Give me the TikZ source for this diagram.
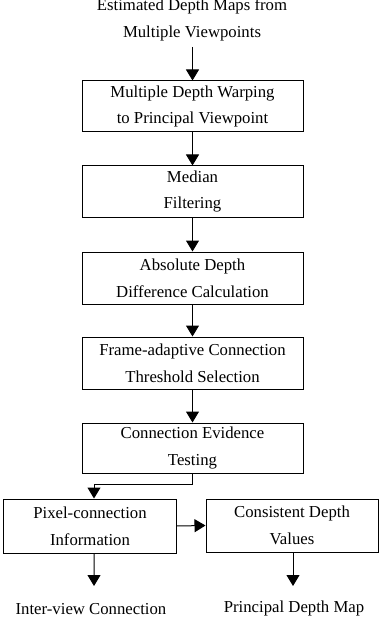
\documentclass[tikz,border=0pt]{standalone}
\usepackage{fontspec}
\setmainfont{Liberation Serif}
\usetikzlibrary{arrows.meta}
\begin{document}
\begin{tikzpicture}[x=1bp,y=-1bp,
  box/.style={draw, line width=1bp, minimum width=221bp, minimum height=51bp, align=center, inner sep=0pt, font=\fontsize{16.8}{27}\selectfont},
  sbox/.style={box, minimum width=172bp, minimum height=54bp},
  lbl/.style={align=center, inner sep=0pt, font=\fontsize{16.8}{27}\selectfont},
  arr/.style={line width=1bp, -{Triangle[length=11bp,width=13bp]}}]
\useasboundingbox (0,0) rectangle (379,625);
\node[lbl] (src) at (192,20) {Estimated Depth Maps from\\Multiple Viewpoints};
\node[box] (b1) at (192.5,106.5) {Multiple Depth Warping\\to Principal Viewpoint};
\node[box] (b2) at (192.5,191.5) {Median\\Filtering};
\node[box, minimum height=52bp] (b3) at (192.5,278) {Absolute Depth\\Difference Calculation};
\node[box, minimum height=52bp] (b4) at (192.5,363) {Frame-adaptive Connection\\Threshold Selection};
\node[box, minimum height=50bp] (b5) at (192.5,448) {Connection Evidence\\Testing};
\node[sbox] (b6) at (90,526) {Pixel-connection\\Information};
\node[sbox, minimum height=53bp] (b7) at (292,525.5) {Consistent Depth\\Values};
\node[lbl] (o1) at (91,609) {Inter-view Connection};
\node[lbl] (o2) at (294,608) {Principal Depth Map};
\coordinate (s0) at (192.5,47);
\coordinate (t1) at (94,586);
\coordinate (t2) at (293,586);
\draw[arr] (s0) -- (b1.north);
\draw[arr] (b1) -- (b2);
\draw[arr] (b2) -- (b3);
\draw[arr] (b3) -- (b4);
\draw[arr] (b4) -- (b5);
\draw[arr] (b5.south) -- ++(0,11) -| ([xshift=4bp]b6.north);
\draw[arr] (b6.east) -- (b7.west);
\draw[arr] ([xshift=4bp]b6.south) -- (t1);
\draw[arr] ([xshift=1bp]b7.south) -- (t2);
\end{tikzpicture}
\end{document}
